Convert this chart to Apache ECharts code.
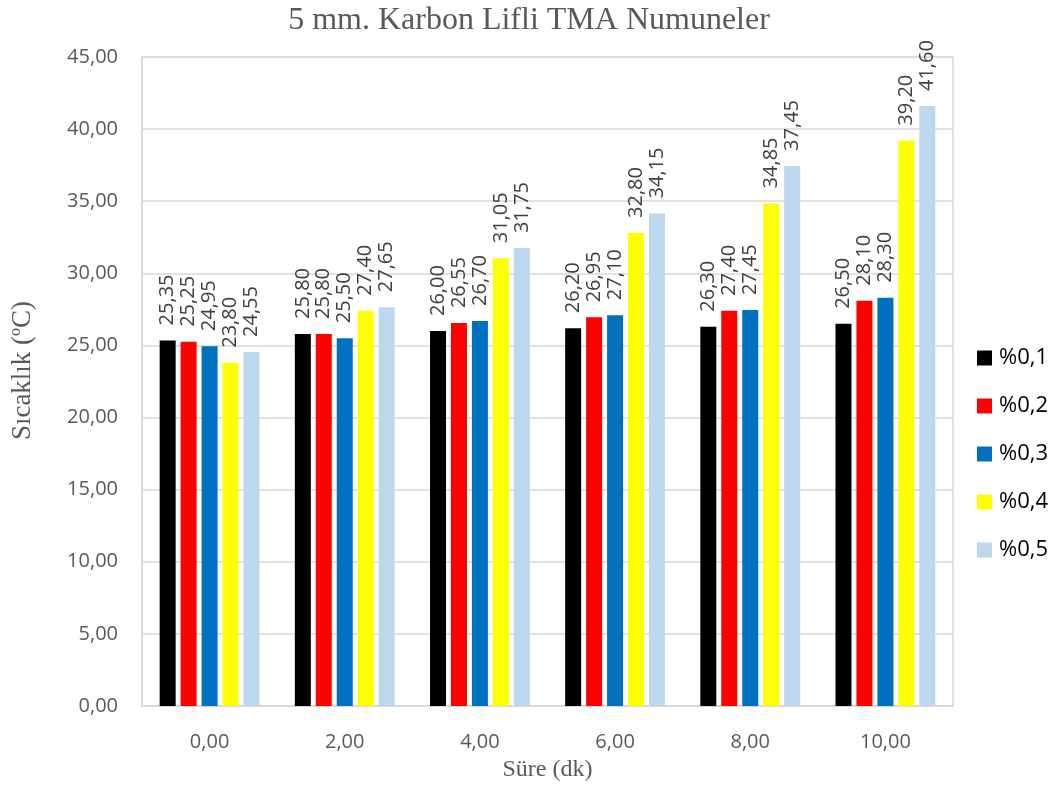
<!DOCTYPE html>
<html>
<head>
<meta charset="utf-8">
<script src="https://cdn.jsdelivr.net/npm/echarts@6/dist/echarts.min.js"></script>
<style>
  html, body { margin: 0; padding: 0; background: #fff; }
  #chart { width: 1058px; height: 789px; }
</style>
</head>
<body>
<div id="chart"></div>
<script>
// Time points (minutes) on the category axis
const categories = ['0,00', '2,00', '4,00', '6,00', '8,00', '10,00'];

// Series names (fibre ratio)
const seriesNames = ['%0,1', '%0,2', '%0,3', '%0,4', '%0,5'];

// Temperature values (°C) per series, one per time point
const s01 = [25.35, 25.80, 26.00, 26.20, 26.30, 26.50];
const s02 = [25.25, 25.80, 26.55, 26.95, 27.40, 28.10];
const s03 = [24.95, 25.50, 26.70, 27.10, 27.45, 28.30];
const s04 = [23.80, 27.40, 31.05, 32.80, 34.85, 39.20];
const s05 = [24.55, 27.65, 31.75, 34.15, 37.45, 41.60];

const seriesValues = [s01, s02, s03, s04, s05];
const seriesColors = ['#000000', '#ff0000', '#0070c0', '#ffff00', '#bdd7ee'];

const fmt = v => v.toFixed(2).replace('.', ',');
const sansFont = '"Open Sans", "Liberation Sans", sans-serif';
const serifFont = '"Liberation Serif", "DejaVu Serif", serif';

const chart = echarts.init(document.getElementById('chart'), null, { renderer: 'canvas' });

const option = {
  backgroundColor: '#ffffff',
  animation: false,
  title: {
    text: '5 mm. Karbon Lifli TMA Numuneler',
    left: 'center',
    top: 0,
    textStyle: { fontFamily: serifFont, fontSize: 32, fontWeight: 'normal', color: '#595959' }
  },
  legend: {
    orient: 'vertical',
    left: 972,
    top: 342,
    itemWidth: 15,
    itemHeight: 15,
    itemGap: 26,
    icon: 'rect',
    textStyle: { fontFamily: sansFont, fontSize: 22, color: '#000000', padding: [0, 0, 0, 2] },
    data: seriesNames
  },
  grid: {
    left: 137, right: 105, top: 57, bottom: 83,
    show: true, borderColor: '#d9d9d9', borderWidth: 1.5
  },
  xAxis: {
    type: 'category',
    data: categories,
    name: 'Süre (dk)',
    nameLocation: 'middle',
    nameGap: 52,
    nameTextStyle: { fontFamily: serifFont, fontSize: 24, color: '#595959' },
    axisLine: { show: true, lineStyle: { color: '#d9d9d9', width: 1.5 } },
    axisTick: { show: false },
    axisLabel: { fontFamily: sansFont, fontSize: 20, color: '#595959', margin: 26 }
  },
  yAxis: {
    type: 'value',
    min: 0,
    max: 45,
    interval: 5,
    name: '{n|Sıcaklık (}{s|o}{n|C)}',
    nameLocation: 'middle',
    nameGap: 104,
    nameTextStyle: {
      padding: [0, 0, 0, 22],
      rich: {
        n: { fontFamily: serifFont, fontSize: 27, color: '#595959', lineHeight: 30 },
        s: { fontFamily: serifFont, fontSize: 16, color: '#595959', verticalAlign: 'top', lineHeight: 30 }
      }
    },
    axisLine: { show: true, lineStyle: { color: '#d9d9d9', width: 1.5 } },
    axisTick: { show: false },
    splitLine: { lineStyle: { color: '#d9d9d9', width: 1.5 } },
    axisLabel: { fontFamily: sansFont, fontSize: 20, color: '#595959', margin: 24, formatter: v => fmt(v) }
  },
  series: seriesNames.map((name, i) => ({
    name: name,
    type: 'bar',
    data: seriesValues[i],
    barWidth: 16,
    barGap: '31%',
    itemStyle: { color: seriesColors[i] },
    label: {
      show: true,
      position: 'top',
      rotate: 90,
      align: 'left',
      verticalAlign: 'middle',
      distance: 15,
      fontFamily: sansFont,
      fontSize: 20,
      color: '#404040',
      formatter: p => fmt(p.value)
    }
  }))
};

chart.setOption(option);
</script>
</body>
</html>
